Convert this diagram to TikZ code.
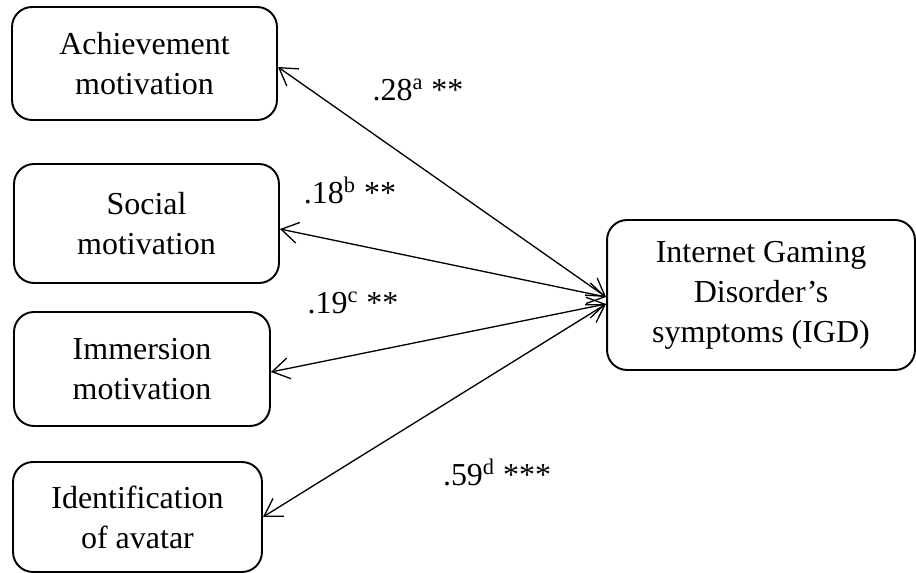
\documentclass[tikz,border=0pt]{standalone}
\usepackage{fontspec}
\setmainfont{Liberation Serif}
\usetikzlibrary{arrows.meta}

\tikzset{
	motive/.style={draw,line width=1.1pt,rounded corners=0.4cm,align=center,
		font=\fontsize{18.2pt}{22.8pt}\selectfont},
	coef/.style={inner sep=0pt,font=\fontsize{18.2pt}{22.8pt}\selectfont},
	link/.style={line width=0.75pt,{Straight Barb[length=0.34cm,width=0.42cm]}-{Straight Barb[length=0.34cm,width=0.42cm]}}
}

\begin{document}
\begin{tikzpicture}[x=0.02cm,y=-0.02cm]
		\useasboundingbox (0,0) rectangle (916,573);

		\node[motive,minimum width=5.3cm,minimum height=2.26cm] (ach) at (144.5,63.5) {Achievement\\motivation}; %達成
		\node[motive,minimum width=5.3cm,minimum height=2.38cm] (soc) at (146.5,223.5) {Social\\motivation}; %社会
		\node[motive,minimum width=5.12cm,minimum height=2.28cm] (imm) at (142,369) {Immersion\\motivation}; %没入
		\node[motive,minimum width=4.98cm,minimum height=2.2cm] (ide) at (137.5,517) {Identification\\of avatar}; %アバター
		\node[motive,minimum width=6.16cm,minimum height=3.0cm] (igd) at (761,295) {Internet Gaming\\Disorder's\\symptoms (IGD)}; %IGD

		\draw[link] ([yshift=-0.07cm]ach.east) -- ([yshift=-0.04cm]igd.west);
		\draw[link] ([yshift=-0.11cm]soc.east) -- ([yshift=-0.04cm]igd.west);
		\draw[link] ([yshift=-0.06cm]imm.east) -- ([yshift=-0.18cm]igd.west);
		\draw[link] (ide.east) -- ([yshift=-0.18cm]igd.west);

		\node[coef] (c1) at (418,90) {.28\textsuperscript{a} **};
		\node[coef] (c2) at (350,190) {.18\textsuperscript{b} **};
		\node[coef] (c3) at (353,303) {.19\textsuperscript{c} **};
		\node[coef] (c4) at (497,472) {.59\textsuperscript{d} ***};
	\end{tikzpicture}
\end{document}
